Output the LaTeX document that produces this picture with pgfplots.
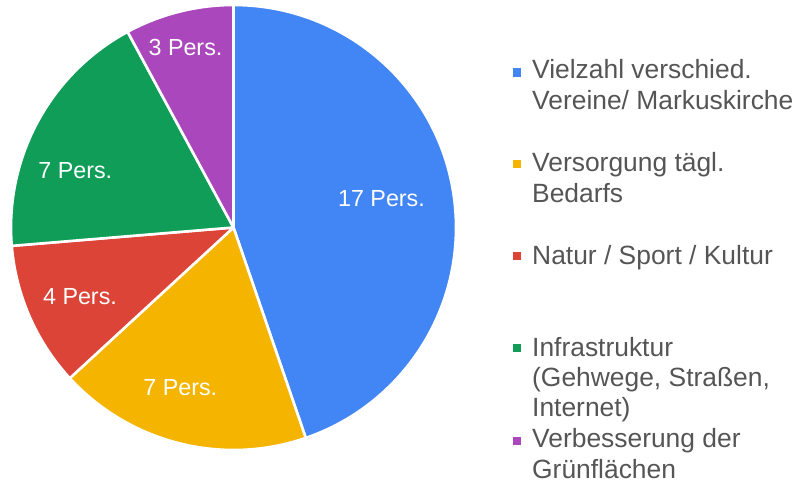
\documentclass[border=0pt]{standalone}
\usepackage{pgfplots}
\pgfplotsset{compat=1.18}
\usepackage{pgfplotstable}
\usepackage{fontspec}
\setmainfont{Liberation Sans}
\definecolor{cBlue}{HTML}{4285F4}
\definecolor{cYellow}{HTML}{F4B400}
\definecolor{cRed}{HTML}{DB4437}
\definecolor{cGreen}{HTML}{0F9D58}
\definecolor{cPurple}{HTML}{AB47BC}
\definecolor{txt}{HTML}{555555}
% value, colour, label position (x, y in axis units)
\pgfplotstableread{
value col lx ly
17 cBlue 381.5 275
7 cYellow 180.3 86.3
4 cRed 80 177
7 cGreen 75.3 303
3 cPurple 185.5 426
}\piedata
\begin{document}
\begin{tikzpicture}
\begin{axis}[x=1pt,y=1pt,xmin=0,xmax=798,ymin=0,ymax=482,hide axis,clip=false]
\path (axis cs:0,0) rectangle (axis cs:798,482);
\def\cum{0}
\pgfplotsforeachungrouped \i in {0,...,4}{%
  \pgfplotstablegetelem{\i}{value}\of\piedata \let\v\pgfplotsretval
  \pgfplotstablegetelem{\i}{col}\of\piedata \let\c\pgfplotsretval
  \pgfplotstablegetelem{\i}{lx}\of\piedata \let\lx\pgfplotsretval
  \pgfplotstablegetelem{\i}{ly}\of\piedata \let\ly\pgfplotsretval
  \pgfmathsetmacro{\a}{90-\cum*360/38}%
  \pgfmathsetmacro{\b}{90-(\cum+\v)*360/38}%
  \pgfmathsetmacro{\cum}{\cum+\v}%
  \edef\temp{\noexpand\fill[fill=\c, draw=white, line width=2.6pt, line join=round] (axis cs:233.5,254.5) -- ++(\a:222.5pt) arc[start angle=\a, end angle=\b, radius=222.5pt] -- cycle;
  \noexpand\node[anchor=base, text=white, font=\noexpand\fontsize{23.3}{28}\noexpand\selectfont, inner sep=0pt] at (axis cs:\lx,\ly) {\v\noexpand~Pers.};}%
  \temp
}
% legend
\fill[cBlue] (axis cs:513,405.3) rectangle (axis cs:521,413.7);
\fill[cYellow] (axis cs:513,313.8) rectangle (axis cs:521,322.2);
\fill[cRed] (axis cs:513,221.8) rectangle (axis cs:521,230.2);
\fill[cGreen] (axis cs:513,129.8) rectangle (axis cs:521,138.2);
\fill[cPurple] (axis cs:513,36.8) rectangle (axis cs:521,45.2);
\begin{scope}[every node/.style={anchor=base west, inner sep=0pt, text=txt, font=\fontsize{26.4}{31}\selectfont}]
\node at (axis cs:532,403) {Vielzahl verschied.};
\node at (axis cs:532,372) {Vereine/ Markuskirche};
\node at (axis cs:532,310.3) {Versorgung tägl.};
\node at (axis cs:532,279) {Bedarfs};
\node at (axis cs:532,217) {Natur / Sport / Kultur};
\node at (axis cs:532,125.3) {Infrastruktur};
\node at (axis cs:532,95.3) {(Gehwege, Straßen,};
\node at (axis cs:532,65.3) {Internet)};
\node at (axis cs:532,34) {Verbesserung der};
\node at (axis cs:532,4) {Grünflächen};
\end{scope}
\end{axis}
\end{tikzpicture}
\end{document}
